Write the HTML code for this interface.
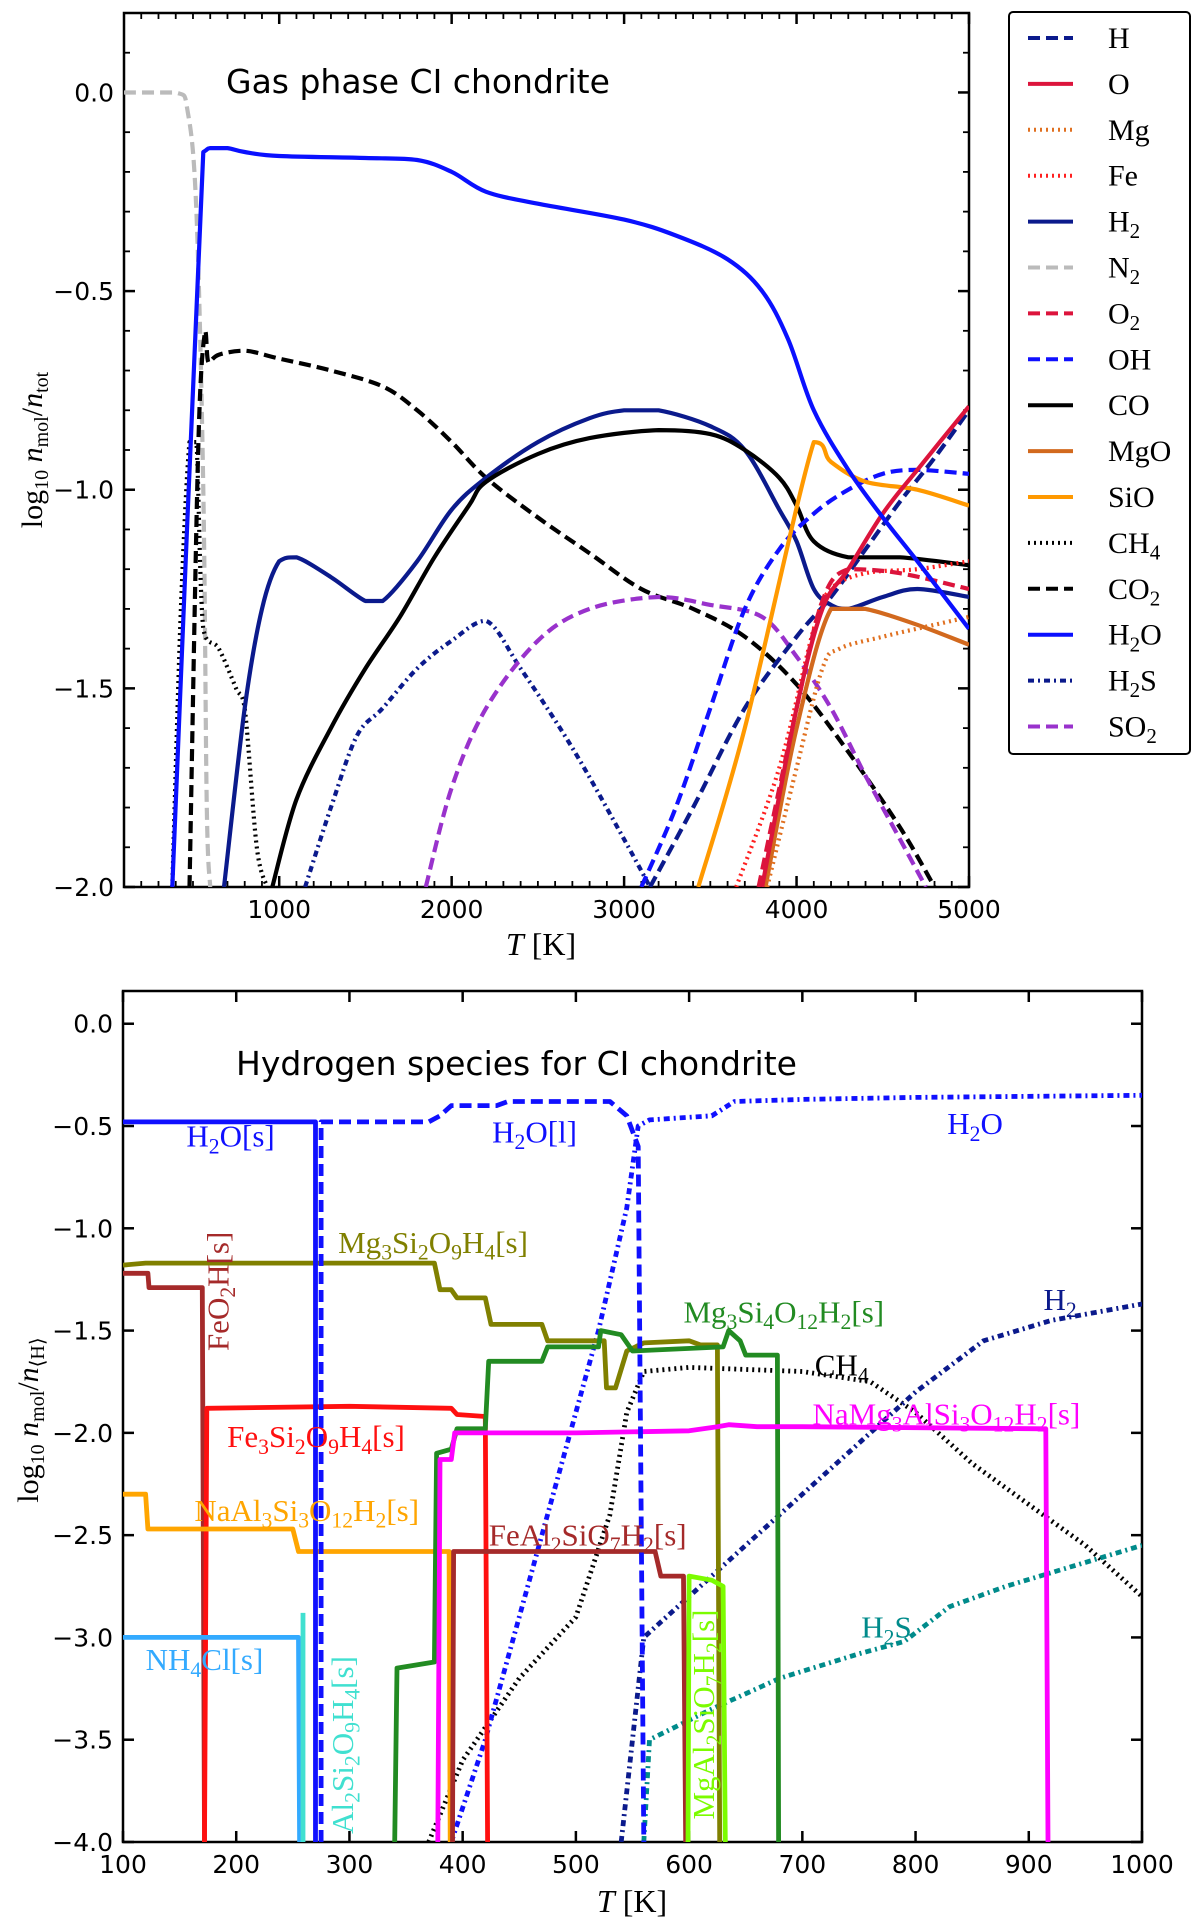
<!DOCTYPE html>
<html><head><meta charset="utf-8"><style>
html,body{margin:0;padding:0;background:#fff;}
svg{display:block;}
text{font-family:"Liberation Serif",serif;}
.sans{font-family:"DejaVu Sans","Liberation Sans",sans-serif;}
</style></head><body>
<svg id="chart" width="1200" height="1924" viewBox="0 0 1200 1924" xmlns="http://www.w3.org/2000/svg"></svg>
<script>
// ---------- TOP PLOT DATA ----------
const topSeriesNames = ["H","O","Mg","Fe","H2","N2","O2","OH","CO","MgO","SiO","CH4","CO2","H2O","H2S","SO2"];
const topH = [[3150,-2],[3400,-1.8],[3700,-1.55],[4000,-1.37],[4200,-1.27],[4400,-1.15],[4600,-1.03],[4800,-0.92],[5000,-0.8]];
const topO = [[3800,-2],[4000,-1.55],[4150,-1.3],[4300,-1.2],[4500,-1.06],[4700,-0.95],[5000,-0.79]];
const topMg = [[3830,-2],[4000,-1.7],[4150,-1.45],[4250,-1.4],[4500,-1.37],[4800,-1.34],[5000,-1.32]];
const topFe = [[3650,-2],[3900,-1.7],[4100,-1.35],[4200,-1.25],[4400,-1.21],[4700,-1.2],[5000,-1.18]];
const topH2 = [[680,-2],[800,-1.55],[900,-1.3],[1000,-1.18],[1100,-1.17],[1300,-1.22],[1500,-1.28],[1600,-1.28],[1800,-1.18],[2000,-1.05],[2200,-0.97],[2500,-0.88],[2800,-0.82],[3000,-0.8],[3200,-0.8],[3500,-0.84],[3700,-0.9],[3900,-1.05],[4000,-1.13],[4100,-1.25],[4200,-1.29],[4300,-1.3],[4500,-1.27],[4700,-1.25],[5000,-1.27]];
const topN2 = [[100,0],[400,0],[470,-0.05],[520,-0.3],[560,-1],[580,-1.8],[600,-2]];
const topO2 = [[3780,-2],[4000,-1.55],[4150,-1.28],[4300,-1.2],[4600,-1.21],[5000,-1.25]];
const topOH = [[3100,-2],[3300,-1.8],[3500,-1.55],[3700,-1.3],[3900,-1.15],[4100,-1.06],[4300,-1.0],[4500,-0.96],[4700,-0.95],[5000,-0.96]];
const topCO = [[960,-2],[1100,-1.78],[1300,-1.6],[1500,-1.45],[1700,-1.32],[1900,-1.17],[2100,-1.04],[2200,-0.98],[2500,-0.91],[2800,-0.87],[3200,-0.85],[3500,-0.86],[3700,-0.9],[3900,-0.97],[4000,-1.04],[4100,-1.13],[4300,-1.17],[4600,-1.17],[5000,-1.19]];
const topMgO = [[3820,-2],[4000,-1.6],[4200,-1.3],[4400,-1.3],[4700,-1.34],[5000,-1.39]];
const topSiO = [[3430,-2],[3700,-1.6],[4100,-0.88],[4200,-0.93],[4400,-0.98],[4700,-1.0],[5000,-1.04]];
const topCH4 = [[380,-2],[430,-1.3],[480,-0.88],[520,-0.88],[560,-1.35],[650,-1.4],[750,-1.5],[800,-1.55],[870,-1.9],[930,-2]];
const topCO2 = [[480,-2],[530,-0.9],[570,-0.6],[590,-0.68],[650,-0.66],[800,-0.65],[1000,-0.67],[1300,-0.7],[1600,-0.74],[1800,-0.8],[2000,-0.88],[2200,-0.97],[2500,-1.07],[2800,-1.16],[3100,-1.25],[3400,-1.3],[3700,-1.37],[4000,-1.49],[4300,-1.66],[4600,-1.85],[4800,-2]];
const topH2O = [[380,-2],[560,-0.15],[600,-0.14],[700,-0.14],[800,-0.15],[1000,-0.16],[1500,-0.165],[1800,-0.17],[2000,-0.2],[2200,-0.25],[2500,-0.28],[3000,-0.32],[3300,-0.36],[3600,-0.42],[3800,-0.5],[3950,-0.62],[4100,-0.8],[4300,-0.95],[4500,-1.07],[4700,-1.18],[5000,-1.35]];
const topH2S = [[1150,-2],[1300,-1.8],[1450,-1.62],[1600,-1.55],[1800,-1.45],[2000,-1.38],[2200,-1.33],[2400,-1.45],[2700,-1.65],[3000,-1.88],[3150,-2]];
const topSO2 = [[1850,-2],[2000,-1.75],[2200,-1.55],[2500,-1.38],[2800,-1.3],[3200,-1.27],[3500,-1.29],[3800,-1.32],[4000,-1.42],[4200,-1.55],[4400,-1.72],[4600,-1.88],[4750,-2]];
const topXTicks = [1000,2000,3000,4000,5000];
const topYTicks = [0.0,-0.5,-1.0,-1.5,-2.0];
const topYTickLabels = ["0.0","\u22120.5","\u22121.0","\u22121.5","\u22122.0"];

// ---------- BOTTOM PLOT DATA ----------
const botH2Os = [[100,-0.48],[270,-0.48],[270,-4]];
const botH2Ol = [[275,-4],[275,-0.48],[370,-0.48],[380,-0.45],[390,-0.4],[430,-0.4],[440,-0.38],[530,-0.38],[545,-0.45],[555,-0.6],[560,-4]];
const botH2O = [[390,-4],[420,-3.5],[470,-2.5],[520,-1.5],[545,-0.9],[555,-0.5],[565,-0.47],[620,-0.45],[640,-0.38],[700,-0.37],[800,-0.36],[1000,-0.35]];
const botH2 = [[540,-4],[560,-3],[600,-2.8],[660,-2.5],[720,-2.2],[760,-2],[800,-1.8],[860,-1.55],[920,-1.45],[1000,-1.37]];
const botCH4 = [[370,-4],[400,-3.6],[450,-3.2],[500,-2.9],[530,-2.4],[545,-1.9],[560,-1.7],[600,-1.68],[700,-1.7],[760,-1.75],[800,-1.9],[850,-2.15],[900,-2.35],[950,-2.55],[1000,-2.8]];
const botH2S = [[560,-4],[565,-3.5],[620,-3.35],[680,-3.2],[750,-3.08],[790,-3.02],[830,-2.85],[880,-2.75],[940,-2.65],[1000,-2.55]];
const botMg3Si2 = [[100,-1.18],[120,-1.17],[375,-1.17],[380,-1.3],[390,-1.3],[395,-1.34],[420,-1.34],[425,-1.47],[470,-1.47],[475,-1.55],[525,-1.55],[527,-1.78],[535,-1.78],[545,-1.6],[560,-1.56],[600,-1.55],[610,-1.57],[625,-1.57],[627,-4]];
const botFeO2H = [[100,-1.22],[122,-1.22],[123,-1.29],[170,-1.29],[172,-4]];
const botFe3Si2 = [[172,-4],[174,-1.88],[300,-1.87],[390,-1.88],[395,-1.91],[420,-1.92],[422,-4]];
const botNaAl3 = [[100,-2.3],[120,-2.3],[122,-2.47],[250,-2.47],[255,-2.58],[388,-2.58],[389,-4]];
const botNH4Cl = [[100,-3],[255,-3],[256,-4]];
const botAl2Si2 = [[259,-4],[259,-2.88]];
const botMg3Si4 = [[340,-4],[342,-3.15],[375,-3.12],[377,-2.1],[390,-2.08],[395,-1.98],[420,-1.98],[423,-1.65],[470,-1.65],[475,-1.58],[520,-1.58],[522,-1.5],[540,-1.52],[550,-1.6],[630,-1.58],[635,-1.5],[645,-1.55],[650,-1.62],[678,-1.62],[679,-4]];
const botNaMg3 = [[378,-4],[380,-2.13],[390,-2.13],[393,-2],[500,-2],[600,-1.99],[625,-1.97],[635,-1.96],[660,-1.97],[700,-1.97],[915,-1.98],[917,-4]];
const botFeAl2 = [[391,-4],[392,-2.58],[570,-2.58],[575,-2.7],[595,-2.7],[597,-4]];
const botMgAl2 = [[599,-4],[600,-2.7],[620,-2.72],[630,-2.75],[632,-4]];
const botXTicks = [100,200,300,400,500,600,700,800,900,1000];
const botYTicks = [0.0,-0.5,-1.0,-1.5,-2.0,-2.5,-3.0,-3.5,-4.0];
const botYTickLabels = ["0.0","\u22120.5","\u22121.0","\u22121.5","\u22122.0","\u22122.5","\u22123.0","\u22123.5","\u22124.0"];

// ---------- AXES ----------
const TP = {l:124, r:969, t:13, b:887, xmin:100, xmax:5000, ymin:-2, ymax:0.2};
const BP = {l:123, r:1142, t:991, b:1842, xmin:100, xmax:1000, ymin:-4, ymax:0.16};
function sx(p,v){return p.l+(v-p.xmin)/(p.xmax-p.xmin)*(p.r-p.l);}
function sy(p,v){return p.b-(v-p.ymin)/(p.ymax-p.ymin)*(p.b-p.t);}

const NS="http://www.w3.org/2000/svg";
const svg=document.getElementById('chart');
function mk(tag,attrs,parent){const e=document.createElementNS(NS,tag);for(const k in attrs)e.setAttribute(k,attrs[k]);(parent||svg).appendChild(e);return e;}

function subText(parent,str,x,y,size,fill,rot,name){
  const t=mk('text',{x:x,y:y,'font-size':size,fill:fill},parent);
  
  
  if(rot) t.setAttribute('transform','rotate('+rot+' '+x+' '+y+')');
  const parts=str.match(/\d+|[^\d]+/g);
  let sub=false;
  parts.forEach(p=>{
    const ts=mk('tspan',{},t);
    if(/^\d+$/.test(p)){ts.setAttribute('font-size',size*0.7);ts.setAttribute('dy',size*0.22);sub=true;}
    else if(sub){ts.setAttribute('dy',-size*0.22);sub=false;}
    ts.textContent=p;
  });
  return t;
}

const styles={ solid:'', dash:'12,6', dot:'2,4', dashdot:'10,4,2,4', dashdot2:'6,4,2,4' };
function clampv(v,a,b){const lo=Math.min(a,b),hi=Math.max(a,b);return Math.max(lo,Math.min(hi,v));}
function pathD(p,data,smooth){
  const pts=data.map(pt=>[sx(p,pt[0]),sy(p,pt[1])]);
  if(!smooth||pts.length<3) return pts.map((q,i)=>(i?'L':'M')+q[0].toFixed(1)+','+q[1].toFixed(1)).join(' ');
  let d='M'+pts[0][0].toFixed(1)+','+pts[0][1].toFixed(1);
  for(let i=0;i<pts.length-1;i++){
    const p0=pts[Math.max(0,i-1)],p1=pts[i],p2=pts[i+1],p3=pts[Math.min(pts.length-1,i+2)];
    const c1=[p1[0]+(p2[0]-p0[0])/6,clampv(p1[1]+(p2[1]-p0[1])/6,p1[1],p2[1])];
    const c2=[p2[0]-(p3[0]-p1[0])/6,clampv(p2[1]-(p3[1]-p1[1])/6,p1[1],p2[1])];
    c1[0]=clampv(c1[0],p1[0],p2[0]); c2[0]=clampv(c2[0],p1[0],p2[0]);
    d+=' C'+c1[0].toFixed(1)+','+c1[1].toFixed(1)+' '+c2[0].toFixed(1)+','+c2[1].toFixed(1)+' '+p2[0].toFixed(1)+','+p2[1].toFixed(1);
  }
  return d;
}
function drawLine(p,data,color,style,w,name,clip,smooth){
  const e=mk('path',{d:pathD(p,data,smooth),fill:'none',stroke:color,'stroke-width':w,'stroke-dasharray':styles[style],'stroke-linejoin':'round','clip-path':'url(#'+clip+')'});
  
  
}

const defs=mk('defs',{});
const c1=mk('clipPath',{id:'clipTop'},defs); mk('rect',{x:TP.l,y:TP.t,width:TP.r-TP.l,height:TP.b-TP.t},c1);
const c2=mk('clipPath',{id:'clipBot'},defs); mk('rect',{x:BP.l,y:BP.t,width:BP.r-BP.l,height:BP.b-BP.t},c2);

function axes(p,xt,yt,ytl,xminor,yminor,group){
  const g=mk('g',{});
  
  
  const frame=mk('rect',{x:p.l,y:p.t,width:p.r-p.l,height:p.b-p.t,fill:'none',stroke:'#000','stroke-width':2.5},g);
  
  
  xminor.forEach(v=>{const x=sx(p,v);mk('line',{x1:x,x2:x,y1:p.b,y2:p.b-6,stroke:'#000','stroke-width':1.8},g);mk('line',{x1:x,x2:x,y1:p.t,y2:p.t+6,stroke:'#000','stroke-width':1.8},g);});
  yminor.forEach(v=>{const y=sy(p,v);mk('line',{x1:p.l,x2:p.l+6,y1:y,y2:y,stroke:'#000','stroke-width':1.8},g);mk('line',{x1:p.r,x2:p.r-6,y1:y,y2:y,stroke:'#000','stroke-width':1.8},g);});
  xt.forEach(v=>{const x=sx(p,v);
    mk('line',{x1:x,x2:x,y1:p.b,y2:p.b-11,stroke:'#000','stroke-width':2.5},g);
    mk('line',{x1:x,x2:x,y1:p.t,y2:p.t+11,stroke:'#000','stroke-width':2.5},g);
    const t=mk('text',{x:x,y:p.b+31,'font-size':25,'text-anchor':'middle',class:'sans'},g);
    
    
    t.textContent=v;});
  yt.forEach((v,i)=>{const y=sy(p,v);
    mk('line',{x1:p.l,x2:p.l+11,y1:y,y2:y,stroke:'#000','stroke-width':2.5},g);
    mk('line',{x1:p.r,x2:p.r-11,y1:y,y2:y,stroke:'#000','stroke-width':2.5},g);
    const t=mk('text',{x:p.l-10,y:y+9,'font-size':25,'text-anchor':'end',class:'sans'},g);
    
    
    t.textContent=ytl[i];});
}

const topXMinor=[];for(let v=200;v<=4900;v+=100)if(v%1000)topXMinor.push(v);
const topYMinor=[];for(let k=-19;k<2;k++){if(k%5!==0)topYMinor.push(k/10);}
axes(TP,topXTicks,topYTicks,topYTickLabels,topXMinor,topYMinor,'top-axes');
axes(BP,botXTicks,botYTicks,botYTickLabels,[],[],'bottom-axes');

// ---------- TOP SERIES ----------
const topStyles=[
 [topN2,'#bbbbbb','dash','n2-line'],[topCH4,'#000','dot','ch4-line'],[topCO2,'#000','dash','co2-line'],
 [topH2,'#0b1a8c','solid','h2-line'],[topCO,'#000','solid','co-line'],[topH2S,'#0b1a8c','dashdot2','h2s-line'],
 [topSO2,'#9932cc','dash','so2-line'],[topOH,'#1010ff','dash','oh-line'],[topH,'#0b1a8c','dash','h-line'],
 [topSiO,'#ff9900','solid','sio-line'],[topMgO,'#d2691e','solid','mgo-line'],[topMg,'#e07020','dot','mg-line'],
 [topFe,'#ff2020','dot','fe-line'],[topO2,'#dc143c','dash','o2-line'],[topO,'#dc143c','solid','o-line'],
 [topH2O,'#0a10ff','solid','h2o-line']];
topStyles.forEach(s=>drawLine(TP,s[0],s[1],s[2],4.2,s[3],'clipTop',true));

let tt=mk('text',{x:226,y:93,'font-size':33,class:'sans'});


tt.textContent='Gas phase CI chondrite';

let yl=mk('g',{transform:'translate(42,450) rotate(-90)'});


let ylt=mk('text',{x:0,y:0,'font-size':30,'text-anchor':'middle'},yl);
ylt.innerHTML='log<tspan font-size="20" dy="6">10</tspan><tspan dy="-6" font-style="italic"> n</tspan><tspan font-size="20" dy="6">mol</tspan><tspan dy="-6">/</tspan><tspan font-style="italic">n</tspan><tspan font-size="20" dy="6">tot</tspan>';
let xl=mk('text',{x:541,y:955,'font-size':32,'text-anchor':'middle'});


xl.innerHTML='<tspan font-style="italic">T</tspan> [K]';

// legend
const legEntries=[["H",'#0b1a8c','dash'],["O",'#dc143c','solid'],["Mg",'#e07020','dot'],["Fe",'#ff2020','dot'],["H2",'#0b1a8c','solid'],["N2",'#bbbbbb','dash'],["O2",'#dc143c','dash'],["OH",'#1010ff','dash'],["CO",'#000','solid'],["MgO",'#d2691e','solid'],["SiO",'#ff9900','solid'],["CH4",'#000','dot'],["CO2",'#000','dash'],["H2O",'#0a10ff','solid'],["H2S",'#0b1a8c','dashdot2'],["SO2",'#9932cc','dash']];
const lg=mk('g',{});


mk('rect',{x:1009,y:12,width:181,height:742,rx:4,fill:'#fff',stroke:'#000','stroke-width':2},lg);
legEntries.forEach((e,i)=>{
  const y=38+i*45.9;
  const ln=mk('line',{x1:1028,x2:1073,y1:y,y2:y,stroke:e[1],'stroke-width':4,'stroke-dasharray':styles[e[2]]},lg);
  
  
  subText(lg,e[0],1108,y+10,30,'#000',0,'legend-entry');
});

// ---------- BOTTOM SERIES ----------
const botStyles=[
 [botCH4,'#000','dot','ch4-line'],[botH2,'#0b1a8c','dashdot2','h2-line'],[botH2O,'#1010ff','dashdot2','h2o-gas-line'],
 [botH2S,'#008b8b','dashdot2','h2s-line'],
 [botMg3Si2,'#808000','solid','mg3si2o9h4-line'],[botFeO2H,'#a52a2a','solid','feo2h-line'],[botFe3Si2,'#ff1010','solid','fe3si2o9h4-line'],
 [botNaAl3,'#ffa500','solid','naal3si3o12h2-line'],[botNH4Cl,'#33aaff','solid','nh4cl-line'],[botAl2Si2,'#40e0d0','solid','al2si2o9h4-line'],
 [botMg3Si4,'#228b22','solid','mg3si4o12h2-line'],[botNaMg3,'#ff00ff','solid','namg3alsi3o12h2-line'],[botFeAl2,'#a52a2a','solid','feal2sio7h2-line'],
 [botMgAl2,'#7cfc00','solid','mgal2sio7h2-line'],[botH2Os,'#1010ff','solid','h2o-solid-line'],[botH2Ol,'#1010ff','dash','h2o-liquid-line']];
botStyles.forEach(s=>drawLine(BP,s[0],s[1],s[2],4.8,s[3],'clipBot',false));

let bt=mk('text',{x:236,y:1075,'font-size':33,class:'sans'});


bt.textContent='Hydrogen species for CI chondrite';

const botLabels=[
 ["H2O[s]",156,-0.6,'#1010ff',0],["H2O[l]",426,-0.58,'#1010ff',0],["H2O",828,-0.54,'#1010ff',0],
 ["Mg3Si2O9H4[s]",290,-1.12,'#808000',0],["FeO2H[s]",193,-1.6,'#a52a2a',-90],["Fe3Si2O9H4[s]",192,-2.07,'#ff1010',0],
 ["NaAl3Si3O12H2[s]",163,-2.43,'#ffa500',0],["FeAl2SiO7H2[s]",423,-2.55,'#a52a2a',0],["Mg3Si4O12H2[s]",595,-1.46,'#228b22',0],
 ["H2",913,-1.4,'#0b1a8c',0],["CH4",711,-1.72,'#000',0],["NaMg3AlSi3O12H2[s]",709,-1.96,'#ff00ff',0],
 ["H2S",752,-3.0,'#008b8b',0],["NH4Cl[s]",120,-3.16,'#33aaff',0],["Al2Si2O9H4[s]",303,-3.96,'#40e0d0',-90],
 ["MgAl2SiO7H2[s]",622,-3.89,'#7cfc00',-90]];
botLabels.forEach(l=>subText(svg,l[0],sx(BP,l[1]),sy(BP,l[2]),31,l[3],l[4],'series-label'));

let yl2=mk('g',{transform:'translate(38,1420) rotate(-90)'});


let yl2t=mk('text',{x:0,y:0,'font-size':30,'text-anchor':'middle'},yl2);
yl2t.innerHTML='log<tspan font-size="20" dy="6">10</tspan><tspan dy="-6" font-style="italic"> n</tspan><tspan font-size="20" dy="6">mol</tspan><tspan dy="-6">/</tspan><tspan font-style="italic">n</tspan><tspan font-size="20" dy="6">⟨H⟩</tspan>';
let xl2=mk('text',{x:632,y:1912,'font-size':32,'text-anchor':'middle'});


xl2.innerHTML='<tspan font-style="italic">T</tspan> [K]';
</script>
</body></html>
